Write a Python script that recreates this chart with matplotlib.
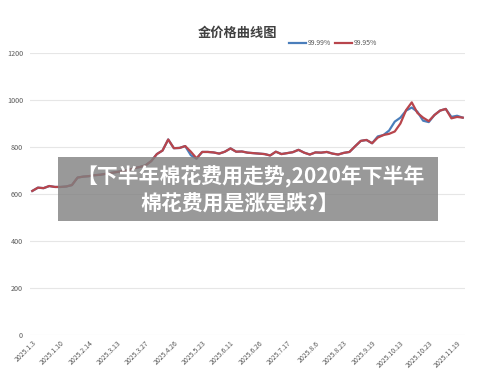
import matplotlib
matplotlib.use("Agg")
import matplotlib.pyplot as plt
from matplotlib.patches import Rectangle

plt.rcParams['font.family'] = ['Noto Sans CJK SC', 'DejaVu Sans']

tick_labels = ["2025.1.3", "2025.1.10", "2025.2.14", "2025.3.13", "2025.3.27",
               "2025.4.26", "2025.5.23", "2025.6.11", "2025.6.26", "2025.7.17",
               "2025.8.6", "2025.8.23", "2025.9.19", "2025.10.13", "2025.10.23",
               "2025.11.19"]

red_9995 = [613, 627, 625, 634, 630, 630, 632, 638, 670, 674,
            676, 680, 682, 686, 690, 694, 698, 702, 710, 715,
            722, 740, 770, 785, 832, 795, 796, 804, 780, 752,
            779, 779, 777, 772, 780, 794, 780, 781, 776, 774,
            772, 770, 764, 780, 770, 774, 778, 788, 776, 768,
            777, 776, 779, 772, 768, 775, 779, 803, 826, 830,
            816, 840, 851, 856, 866, 900, 957, 990, 945, 925,
            910, 936, 955, 962, 922, 928, 925]

blue_9999 = list(red_9995)
blue_overrides = {28: 765, 29: 750, 61: 845, 63: 870, 64: 908, 65: 925,
                  66: 955, 67: 968, 68: 950, 69: 912, 70: 906, 74: 928, 75: 933}
for k, v in blue_overrides.items():
    blue_9999[k] = v

n = len(red_9995)
x = list(range(n))

fig = plt.figure(figsize=(5.0, 3.8), dpi=100)
ax = fig.add_axes([0.06, 0.1184, 0.87, 0.7421])

ax.plot(x, blue_9999, color='#4a7ebb', lw=1.6, label='99.99%', zorder=3)
ax.plot(x, red_9995, color='#b8454c', lw=1.6, label='99.95%', zorder=4)

ax.set_ylim(0, 1200)
ax.set_xlim(-0.4, n - 0.6)
ax.set_yticks(range(0, 1201, 200))
ax.set_yticklabels([str(v) for v in range(0, 1201, 200)])
ax.grid(axis='y', color='#e6e6e6', lw=0.8)
ax.set_axisbelow(True)
for s in ax.spines.values():
    s.set_visible(False)
ax.tick_params(axis='y', length=0, labelsize=5.2, labelcolor='#595959', pad=5)
ax.tick_params(axis='x', length=0, labelsize=5.0, labelcolor='#595959', pad=3)
ax.set_xticks(x[::5])
ax.set_xticklabels(tick_labels, rotation=45, ha='right', rotation_mode='anchor')

fig.text(0.474, 0.914, '金价格曲线图', ha='center', va='center', fontsize=9.5,
         fontweight='bold', color='#404040')
leg = ax.legend(loc='center left', bbox_to_anchor=(0.572, 0.887),
                bbox_transform=fig.transFigure, ncol=2, frameon=False,
                fontsize=5, handlelength=2.4, handletextpad=0.3,
                columnspacing=0.5, borderpad=0)
for t in leg.get_texts():
    t.set_color('#595959')

fig.patches.append(Rectangle((0.116, 0.4184), 0.76, 0.168, transform=fig.transFigure,
                             facecolor='#808080', alpha=0.8, edgecolor='none', zorder=10))
fig.text(0.50, 0.534, '【下半年棉花费用走势,2020年下半年', ha='center', va='center',
         fontsize=15, fontweight='bold', color='white', zorder=11)
fig.text(0.48, 0.464, '棉花费用是涨是跌?】', ha='center', va='center',
         fontsize=15, fontweight='bold', color='white', zorder=11)

fig.savefig('out.png', dpi=100)
